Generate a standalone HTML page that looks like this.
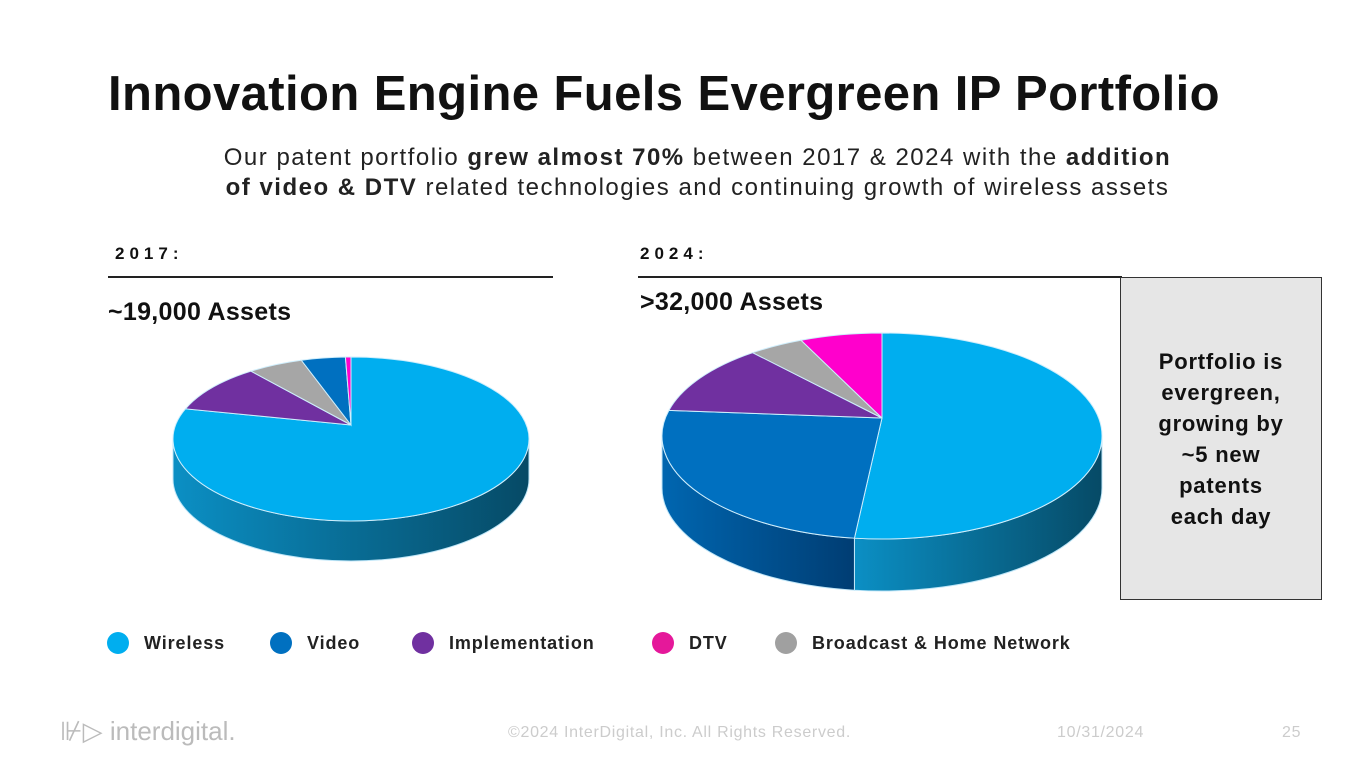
<!DOCTYPE html>
<html><head><meta charset="utf-8"><style>
body{margin:0;width:1365px;height:768px;background:#fff;position:relative;overflow:hidden;font-family:"Liberation Sans",sans-serif;}
.a{position:absolute;}
h1{position:absolute;left:108px;top:66px;margin:0;font-size:49px;font-weight:bold;color:#111;letter-spacing:0.4px;}
.sub{left:150px;width:1095px;top:143px;text-align:center;font-size:24px;line-height:30px;color:#222;letter-spacing:1.5px;}
.yr{font-size:17px;font-weight:bold;letter-spacing:5px;color:#111;}
.hr{height:1.5px;background:#222;}
.assets{font-size:25px;font-weight:bold;color:#111;letter-spacing:0.3px;}
.box{left:1120px;top:277px;width:202px;height:323px;background:#e6e6e6;border:1.5px solid #333;box-sizing:border-box;display:flex;align-items:center;justify-content:center;text-align:center;font-size:22px;font-weight:bold;line-height:31px;color:#111;letter-spacing:0.8px;}
.leg{top:632px;font-size:18px;font-weight:bold;color:#222;display:flex;align-items:center;letter-spacing:0.9px;}
.dot{width:22px;height:22px;border-radius:50%;margin-right:15px;display:inline-block;}
.foot{top:724px;font-size:16px;color:#ccc;letter-spacing:0.7px;}
</style></head><body>
<h1>Innovation Engine Fuels Evergreen IP Portfolio</h1>
<div class="a sub">Our patent portfolio <b>grew almost 70%</b> between 2017 &amp; 2024 with the <b>addition<br>of video &amp; DTV</b> related technologies and continuing growth of wireless assets</div>
<div class="a yr" style="left:115px;top:244px">2017:</div>
<div class="a yr" style="left:640px;top:244px">2024:</div>
<div class="a hr" style="left:108px;top:276px;width:445px"></div>
<div class="a hr" style="left:638px;top:276px;width:484px"></div>
<div class="a assets" style="left:108px;top:298px">~19,000 Assets</div>
<div class="a assets" style="left:640px;top:288px">&gt;32,000 Assets</div>
<div class="a box">Portfolio is<br>evergreen,<br>growing by<br>~5 new<br>patents<br>each day</div>
<svg class="a" style="left:0;top:0" width="1365" height="768" id="pies"></svg>
<div class="a leg" style="left:107px"><span class="dot" style="background:#00aeef"></span>Wireless</div>
<div class="a leg" style="left:270px"><span class="dot" style="background:#0070c0"></span>Video</div>
<div class="a leg" style="left:412px"><span class="dot" style="background:#7030a0"></span>Implementation</div>
<div class="a leg" style="left:652px"><span class="dot" style="background:#e5189a"></span>DTV</div>
<div class="a leg" style="left:775px"><span class="dot" style="background:#a0a0a0"></span>Broadcast &amp; Home Network</div>
<div class="a" style="left:60px;top:716px;font-size:26px;color:#bbb">⊮▷ interdigital.</div>
<div class="a foot" style="left:508px">©2024 InterDigital, Inc. All Rights Reserved.</div>
<div class="a foot" style="left:1057px">10/31/2024</div>
<div class="a foot" style="left:1282px">25</div>
<script>
const categories=["Wireless","Implementation","Broadcast & Home Network","Video","DTV"];
const categories2024=["Wireless","Video","Implementation","Broadcast & Home Network","DTV"];
const values2017=[81,9.5,5,4,0.5];
const values2024=[52,27,11,4,6];
const colors={"Wireless":"#00aeef","Video":"#0070c0","Implementation":"#7030a0","Broadcast & Home Network":"#a6a6a6","DTV":"#ff00cc"};
const sides={"Wireless":["#0b8fc4","#064a66"],"Video":["#0066b0","#003d73"],"Implementation":["#5a2480","#3a1555"],"Broadcast & Home Network":["#888","#555"],"DTV":["#c0009a","#800066"]};
const svg=document.getElementById('pies');
const NS='http://www.w3.org/2000/svg';
function mk(t,a){const e=document.createElementNS(NS,t);for(const k in a)e.setAttribute(k,a[k]);return e;}
const defs=mk('defs',{});svg.appendChild(defs);
for(const k in sides){const g=mk('linearGradient',{id:'g'+k.replace(/\W/g,''),x1:0,x2:1,y1:0,y2:0});
g.appendChild(mk('stop',{offset:0,'stop-color':sides[k][0]}));g.appendChild(mk('stop',{offset:1,'stop-color':sides[k][1]}));defs.appendChild(g);}
function drawPie(cats,vals,cx,cy,rx,ry,d,name,apexDy){
  const tot=vals.reduce((a,b)=>a+b,0);
  const P=(t,dy)=>[cx+rx*Math.sin(t),cy-ry*Math.cos(t)+(dy||0)];
  const ay=cy+(apexDy||0);
  let a=0;const segs=[];
  cats.forEach((c,i)=>{const a1=a+vals[i]/tot*2*Math.PI;segs.push([c,a,a1]);a=a1;});
  segs.forEach(([c,s,e])=>{
    const s2=Math.max(s,Math.PI/2),e2=Math.min(e,1.5*Math.PI);
    if(e2<=s2)return;
    const p1=P(s2),p2=P(e2),p3=P(e2,d),p4=P(s2,d);
    const path=`M${p1} A${rx},${ry} 0 0 1 ${p2} L${p3} A${rx},${ry} 0 0 0 ${p4} Z`;
    const el=mk('path',{d:path,fill:'url(#g'+c.replace(/\W/g,'')+')',stroke:'#bfe6f8','stroke-width':1});
    
    
    svg.appendChild(el);
  });
  segs.forEach(([c,s,e])=>{
    const p1=P(s),p2=P(e);const large=(e-s)>Math.PI?1:0;
    const el=mk('path',{d:`M${cx},${ay} L${p1} A${rx},${ry} 0 ${large} 1 ${p2} Z`,fill:colors[c],stroke:'#cfeefc','stroke-width':1});
    
    
    svg.appendChild(el);
  });
}
drawPie(categories,values2017,351,439,178,82,40,'pie-2017',-14);
drawPie(categories2024,values2024,882,436,220,103,52,'pie-2024',-18);
</script>
</body></html>
